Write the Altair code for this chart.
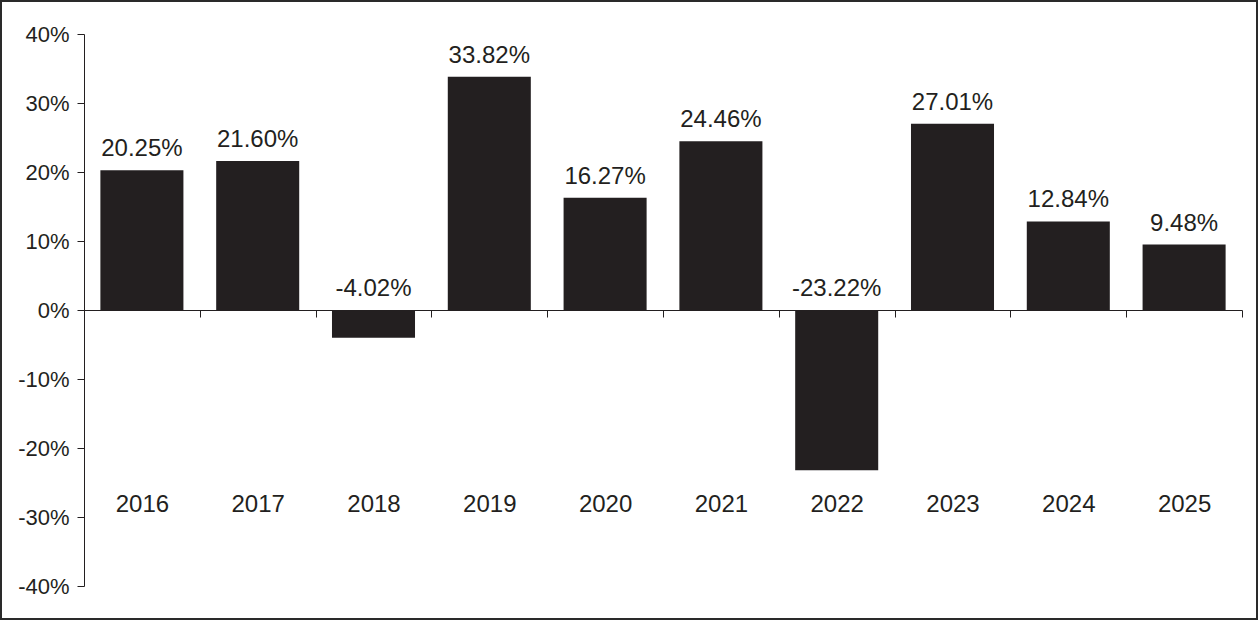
import altair as alt
import pandas as pd

years = ["2016", "2017", "2018", "2019", "2020", "2021", "2022", "2023", "2024", "2025"]
returns = [20.25, 21.60, -4.02, 33.82, 16.27, 24.46, -23.22, 27.01, 12.84, 9.48]
labels = [f"{v:.2f}%" for v in returns]
y_ticks = [-40, -30, -20, -10, 0, 10, 20, 30, 40]

INK = "#231f20"
FONT = "Liberation Sans"

df = pd.DataFrame({"year": years, "ret": returns, "label": labels})

x_scale = alt.Scale(paddingInner=0.283, paddingOuter=0.1415)
y_scale = alt.Scale(domain=[-40, 40], nice=False)

x_axis = alt.Axis(
    title=None, orient="bottom", offset=-276, tickOffset=57.9, labelOffset=-57.9,
    domainColor=INK, domainWidth=1, tickColor=INK, tickWidth=1, tickSize=7,
    labelFont=FONT, labelFontSize=24, labelColor=INK, labelAngle=0,
    labelBaseline="alphabetic", labelPadding=194, grid=False,
)
y_axis = alt.Axis(
    title=None, values=y_ticks, labelExpr="round(datum.value) + '%'",
    domainColor=INK, domainWidth=1, tickColor=INK, tickWidth=1, tickSize=7,
    labelFont=FONT, labelFontSize=22, labelColor=INK, labelPadding=8, grid=False,
)

bars = alt.Chart(df).mark_bar(color=INK).encode(
    x=alt.X("year:N", scale=x_scale, axis=x_axis, sort=years),
    y=alt.Y("ret:Q", scale=y_scale, axis=y_axis),
)

text = alt.Chart(df).transform_calculate(
    pos="max(datum.ret, 0)"
).mark_text(
    font=FONT, fontSize=24, color=INK, baseline="alphabetic", dy=-14
).encode(
    x=alt.X("year:N", sort=years),
    y=alt.Y("pos:Q"),
    text="label:N",
)

frame = alt.Chart(pd.DataFrame({"f": [0]})).mark_rect(
    fill=None, fillOpacity=0, stroke="#2a2a2a", strokeWidth=2
).encode(
    x=alt.value(-83), x2=alt.value(1173), y=alt.value(-33), y2=alt.value(585)
)

chart = alt.layer(bars, text, frame).properties(
    width=1158, height=552,
    autosize=alt.AutoSizeParams(type="none"),
    padding={"left": 84, "top": 34, "right": 17, "bottom": 35},
    background="white",
).configure_view(stroke=None)

chart.save("out.html", embed_options={"renderer": "svg", "actions": False})
